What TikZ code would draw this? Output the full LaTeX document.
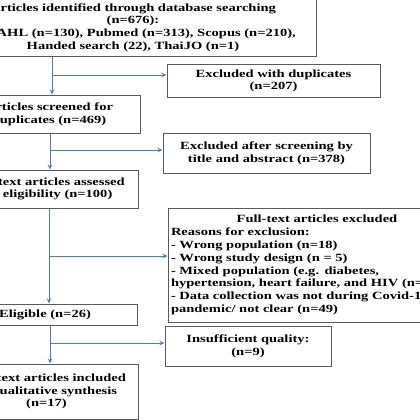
\documentclass[tikz,border=0pt]{standalone}
\usepackage{fontspec}
\setmainfont{Liberation Serif}[FakeStretch=1.32]
\usetikzlibrary{arrows.meta}
\definecolor{boxgray}{HTML}{5A5A5A}
\definecolor{arrowblue}{HTML}{4A7BC6}
\begin{document}
\begin{tikzpicture}[x=1pt,y=-1pt,
  box/.style={draw=boxgray,line width=1pt,inner sep=2pt,align=center,
    font=\bfseries\fontsize{11}{12.6}\selectfont},
  boxl/.style={draw=boxgray,line width=1pt,inner sep=3pt,
    font=\bfseries\fontsize{11}{12.8}\selectfont},
  flow/.style={draw=arrowblue,line width=0.9pt,-{Stealth[length=5pt,width=4.5pt]}}]
\useasboundingbox (0,0) rectangle (420,420);
\clip (0,0) rectangle (420,420);
\fill[white] (0,0) rectangle (420,420);

\node[box,minimum width=366pt,minimum height=59pt] (src) at (133,27.5)
  {Articles identified through database searching\\(n=676):\\CINAHL (n=130), Pubmed (n=313), Scopus (n=210),\\Handed search (22), ThaiJO (n=1)};
\node[box,minimum width=213pt,minimum height=32pt] (dup) at (273.5,81)
  {Excluded with duplicates\\(n=207)};
\node[box,minimum width=182pt,minimum height=38pt] (scr) at (49,114)
  {Articles screened for\\duplicates (n=469)};
\node[box,minimum width=207pt,minimum height=40pt] (ex2) at (266.5,153)
  {Excluded after screening by\\title and abstract (n=378)};
\node[box,minimum width=183pt,minimum height=38pt] (ass) at (46.5,189)
  {Full-text articles assessed\\for eligibility (n=100)};
\node[boxl,text width=292pt,minimum height=114pt] (ex3) at (317,265)
  {{\centering Full-text articles excluded\par}\raggedright
   Reasons for exclusion:\\
   - Wrong population (n=18)\\
   - Wrong study design (n = 5)\\
   - Mixed population (e.g. diabetes,\\
   hypertension, heart failure, and HIV (n=2)\\
   - Data collection was not during Covid-19\\
   pandemic/ not clear (n=49)};
\node[box,minimum width=184pt,minimum height=21pt] (elig) at (45,314.5)
  {Eligible (n=26)};
\node[box,minimum width=166pt,minimum height=40pt] (insuf) at (248,346)
  {Insufficient quality:\\(n=9)};
\node[box,minimum width=183pt,minimum height=55pt] (incl) at (46.5,391.5)
  {Full-text articles included\\in qualitative synthesis\\(n=17)};

\coordinate (j1) at (52,75);
\coordinate (j2) at (50,150);
\coordinate (j3) at (49,256);
\coordinate (j4) at (50,343);

\draw[flow] (src.south -| j1) -- (scr.north -| j1);
\draw[flow] (j1) -- (j1 -| dup.west);
\draw[flow] (scr.south -| j2) -- (ass.north -| j2);
\draw[flow] (j2) -- (j2 -| ex2.west);
\draw[flow] (ass.south -| j3) -- (elig.north -| j3);
\draw[flow] (j3) -- (j3 -| ex3.west);
\draw[flow] (elig.south -| j4) -- (incl.north -| j4);
\draw[flow] (j4) -- (j4 -| insuf.west);
\end{tikzpicture}
\end{document}
